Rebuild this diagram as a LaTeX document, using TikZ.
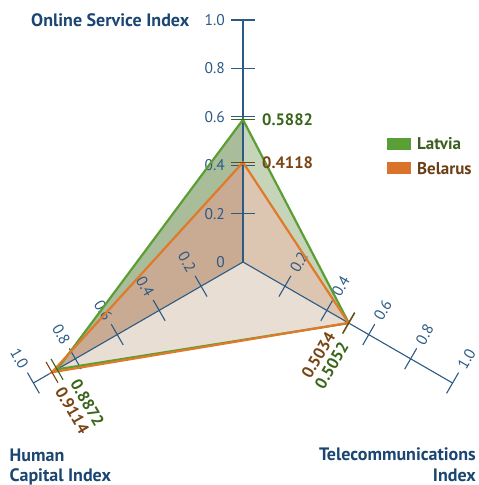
\documentclass[tikz,border=0pt]{standalone}
\usepackage{fontspec}
\setmainfont{PT Sans}
\usetikzlibrary{calc}
\definecolor{navy}{HTML}{1B4672}
\definecolor{axisblue}{HTML}{2B5A85}
\definecolor{lvline}{HTML}{5C9E34}
\definecolor{byline}{HTML}{E07A2A}
\definecolor{lvtext}{HTML}{3A661C}
\definecolor{bytext}{HTML}{7A4514}
\definecolor{lvleft}{HTML}{A9BD9A}
\definecolor{lvright}{HTML}{C6D5B9}
\definecolor{byleft}{HTML}{C9AB94}
\definecolor{byright}{HTML}{DCC5B1}
\definecolor{bybottom}{HTML}{E9DED4}
\definecolor{lvbottom}{HTML}{E3DFD2}
\definecolor{lvkey}{HTML}{5A9E37}
\definecolor{bykey}{HTML}{D9732B}
\definecolor{lvlegend}{HTML}{3B5E1E}
\definecolor{bylegend}{HTML}{6B3F16}
\begin{document}
\begin{tikzpicture}[x=1pt,y=1pt,
  axisline/.style={draw=axisblue, line width=1.1pt},
  ticklab/.style={text=axisblue, font=\fontsize{15.5}{17}\selectfont, inner sep=0pt},
  titletext/.style={text=navy, font=\bfseries\fontsize{18}{20}\selectfont, inner sep=0pt},
  lvval/.style={text=lvtext, font=\bfseries\fontsize{16.5}{18}\selectfont, inner sep=0pt},
  byval/.style={text=bytext, font=\bfseries\fontsize{16.5}{18}\selectfont, inner sep=0pt},
  legendtext/.style={font=\bfseries\fontsize{17}{18}\selectfont, inner sep=0pt},
  outline/.style={line width=2.2pt, line join=miter},
  valtick/.style={line width=1.1pt}
]
\useasboundingbox (-243,-223) rectangle (236,262);
% geometry
\coordinate (O) at (0,0);
\coordinate (U) at (90:242);
\coordinate (L) at (210:242);
\coordinate (R) at (330:242);
\coordinate (LU) at (90:142.34);
\coordinate (LL) at (210:214.70);
\coordinate (LR) at (330:122.26);
\coordinate (BU) at (90:99.66);
\coordinate (BL) at (210:220.56);
\coordinate (BR) at (330:121.82);
% fills
\fill[lvleft] (O) -- (LU) -- (LL) -- cycle;
\fill[lvright] (O) -- (LU) -- (LR) -- cycle;
\fill[lvbottom] (O) -- (LL) -- (LR) -- cycle;
\fill[byleft] (O) -- (BU) -- (BL) -- cycle;
\fill[byright] (O) -- (BU) -- (BR) -- cycle;
\fill[bybottom] (O) -- (BL) -- (BR) -- cycle;
% axes
\draw[axisline] (O) -- (U);
\draw[axisline] (O) -- (L);
\draw[axisline] (O) -- (R);
\node[ticklab, anchor=east] (z0) at (-18,0) {0};
\foreach \v/\t in {0.2/0.2,0.4/0.4,0.6/0.6,0.8/0.8,1/1.0} {
  \pgfmathsetmacro\r{\v*242}
  \draw[axisline] ($(90:\r)+(180:12)$) -- ($(90:\r)+(0:12)$);
  \node[ticklab, anchor=east] (u\t) at ($(90:\r)+(180:18)$) {\t};
  \draw[axisline] ($(210:\r)+(120:12)$) -- ($(210:\r)+(300:12)$);
  \node[ticklab, rotate=-60] (l\t) at ($(210:\r)+(120:28)$) {\t};
  \draw[axisline] ($(330:\r)+(60:12)$) -- ($(330:\r)+(240:12)$);
  \node[ticklab, rotate=60] (r\t) at ($(330:\r)+(60:28)$) {\t};
}
% outlines
\draw[outline, lvline] (LU) -- (LL) -- (LR) -- cycle;
\draw[outline, byline] (BU) -- (BL) -- (BR) -- cycle;
% value ticks
\draw[valtick, lvtext] ($(LU)+(-12,0)$) -- ($(LU)+(12,0)$);
\draw[valtick, bytext] ($(BU)+(-12,0)$) -- ($(BU)+(12,0)$);
\draw[valtick, lvtext] ($(LL)+(120:12)$) -- ($(LL)+(300:12)$);
\draw[valtick, bytext] ($(BL)+(120:12)$) -- ($(BL)+(300:12)$);
\draw[valtick, lvtext] ($(LR)+(60:12)$) -- ($(LR)+(240:12)$);
\draw[valtick, bytext] ($(BR)+(60:12)$) -- ($(BR)+(240:12)$);
% value labels
\node[lvval, anchor=west] (vlu) at ($(LU)+(19,0)$) {0.5882};
\node[byval, anchor=west] (vbu) at ($(BU)+(19,0)$) {0.4118};
\node[lvval, rotate=-60] (vll) at ($(210:205)+(300:44)$) {0.8872};
\node[byval, rotate=-60] (vbl) at ($(210:222)+(300:43)$) {0.9114};
\node[byval, rotate=60] (vbr) at ($(330:111.7)+(240:43)$) {0.5034};
\node[lvval, rotate=60] (vlr) at ($(330:128.3)+(240:45)$) {0.5052};
% titles
\node[titletext, anchor=base west] (tosi) at (-212,235) {Online Service Index};
\node[titletext, anchor=base west] (thci1) at (-233.5,-199) {Human};
\node[titletext, anchor=base west] (thci2) at (-233.5,-219) {Capital Index};
\node[titletext, anchor=base east] (ttel1) at (233,-198) {Telecommunications};
\node[titletext, anchor=base east] (ttel2) at (233,-219) {Index};
% legend
\node[fill=lvkey, minimum width=24pt, minimum height=12pt, inner sep=0pt] (klv) at (156,118) {};
\node[fill=bykey, minimum width=24pt, minimum height=12pt, inner sep=0pt] (kby) at (156,94) {};
\node[legendtext, text=lvlegend, anchor=base west] (tlv) at (174,112) {Latvia};
\node[legendtext, text=bylegend, anchor=base west] (tby) at (174,88) {Belarus};
\end{tikzpicture}
\end{document}
